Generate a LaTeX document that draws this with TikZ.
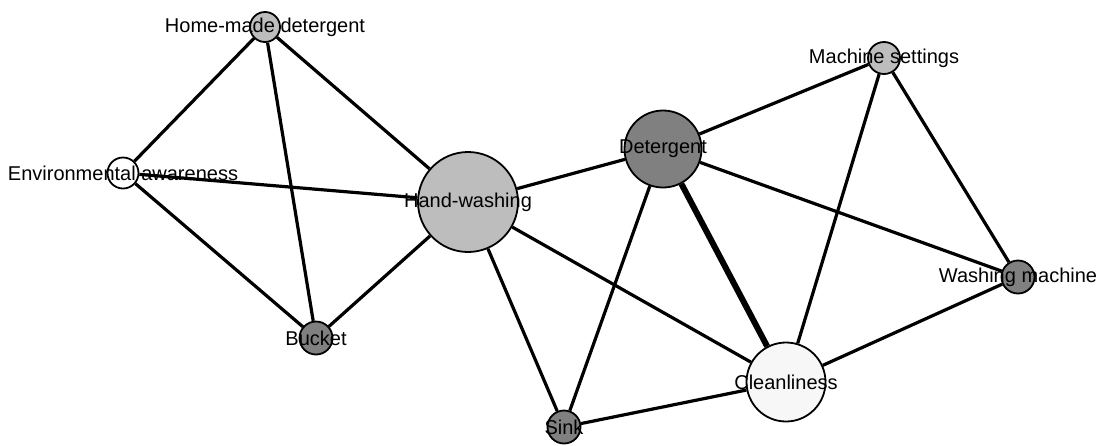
\documentclass[tikz,border=0pt]{standalone}
\usepackage{fontspec}
\setmainfont{Liberation Sans}
\usetikzlibrary{backgrounds}
\begin{document}
\begin{tikzpicture}[x=1pt,y=-1pt,
  vtx/.style={circle,draw=black,line width=1.8pt,inner sep=0pt,minimum size=#1},
  lite/.style={fill=black!26},
  dark/.style={fill=black!50},
  pale/.style={fill=white},
  lbl/.style={label={[font=\fontsize{20}{22}\selectfont,text=black,inner sep=0pt]center:#1}},
  edge/.style={line width=3.2pt,black},
  thickedge/.style={line width=6pt,black}]
\useasboundingbox (0,0) rectangle (1102,445);
\node[vtx=30pt,lite,lbl={Home-made detergent}] (hm) at (265,27) {};
\node[vtx=31pt,pale,lbl={Environmental awareness}] (env) at (123,173) {};
\node[vtx=33pt,dark,lbl={Bucket}] (bucket) at (316,338) {};
\node[vtx=100pt,lite,lbl={Hand-washing}] (hw) at (468,202) {};
\node[vtx=77pt,dark,lbl={Detergent}] (det) at (663,149) {};
\node[vtx=32pt,lite,lbl={Machine settings}] (ms) at (884,58) {};
\node[vtx=33pt,dark,lbl={Washing machine}] (wm) at (1018,277) {};
\node[vtx=79pt,fill=black!3,lbl={Cleanliness}] (cl) at (786,382) {};
\node[vtx=33pt,dark,lbl={Sink}] (sink) at (564,427) {};
\begin{scope}[on background layer]
\draw[edge] (hm) -- (env);
\draw[edge] (hm) -- (bucket);
\draw[edge] (hm) -- (hw);
\draw[edge] (env) -- (hw);
\draw[edge] (env) -- (bucket);
\draw[edge] (bucket) -- (hw);
\draw[edge] (hw) -- (det);
\draw[edge] (hw) -- (sink);
\draw[edge] (hw) -- (cl);
\draw[edge] (det) -- (ms);
\draw[edge] (det) -- (wm);
\draw[thickedge] (det) -- (cl);
\draw[edge] (det) -- (sink);
\draw[edge] (ms) -- (wm);
\draw[edge] (ms) -- (cl);
\draw[edge] (wm) -- (cl);
\draw[edge] (sink) -- (cl);
\end{scope}
\end{tikzpicture}
\end{document}
